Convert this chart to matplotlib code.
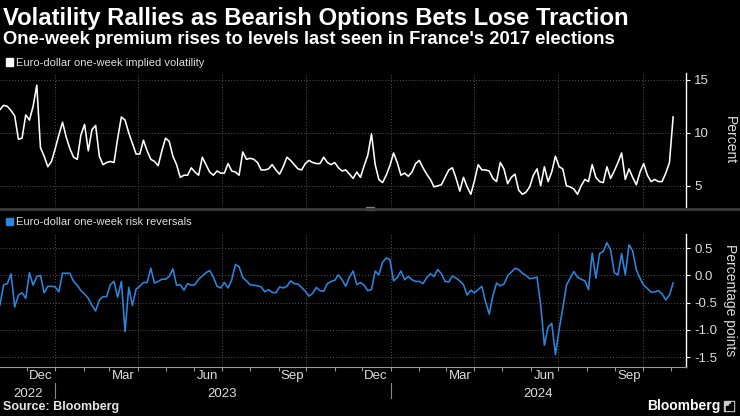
import matplotlib.pyplot as plt
import matplotlib.dates as mdates
import matplotlib.transforms as mtransforms
from matplotlib.patches import Rectangle
from matplotlib.lines import Line2D
from matplotlib.ticker import FormatStrFormatter, NullFormatter
import pandas as pd

plt.rcParams['font.family'] = ['Liberation Sans', 'DejaVu Sans']
plt.rcParams['axes.unicode_minus'] = False

# one reading every 4 days, Nov 2022 -> Nov 2024
dates = pd.date_range('2022-11-02', periods=184, freq='4D')

implied_vol = [
    12.2, 12.6, 12.5, 12.1, 11.6, 9.4, 9.5, 11.7, 11.2, 12.5,
    14.5, 8.6, 7.8, 6.8, 7.3, 8.5, 9.8, 11.0, 9.6, 8.5,
    7.7, 7.5, 9.8, 10.8, 8.3, 10.3, 10.7, 7.8, 7.0, 7.2,
    7.3, 7.2, 9.5, 11.5, 11.2, 10.0, 9.0, 8.0, 8.0, 9.3,
    8.3, 7.5, 7.3, 6.9, 8.3, 9.5, 9.2, 7.8, 7.0, 5.8,
    6.0, 6.0, 6.7, 6.3, 6.0, 7.7, 7.0, 6.3, 6.0, 6.4,
    6.2, 6.2, 7.1, 6.4, 6.3, 6.0, 8.2, 7.5, 7.6, 7.5,
    7.2, 6.5, 6.5, 6.6, 7.0, 6.5, 6.1, 6.8, 7.7, 7.4,
    7.0, 6.6, 6.5, 7.1, 7.4, 7.2, 7.1, 7.1, 7.7, 7.2,
    7.0, 7.2, 6.7, 6.4, 6.5, 6.1, 5.7, 6.3, 5.8, 6.9,
    7.9, 9.9, 7.0, 5.6, 5.3, 6.0, 6.9, 8.1, 7.2, 6.0,
    6.2, 5.9, 6.3, 7.1, 7.4, 6.7, 6.1, 5.6, 4.9, 5.0,
    5.1, 5.8, 6.5, 6.7, 5.7, 4.5, 5.8, 4.9, 4.2, 5.5,
    7.0, 6.5, 6.5, 6.4, 5.7, 5.4, 7.2, 6.6, 5.2, 5.8,
    6.1, 4.6, 4.2, 4.4, 4.9, 6.0, 6.6, 5.0, 6.8, 5.4,
    6.3, 7.8, 6.8, 6.6, 5.0, 4.9, 4.7, 4.2, 5.0, 5.6,
    5.4, 7.0, 5.8, 5.4, 5.3, 6.8, 5.7, 6.4, 7.2, 8.1,
    5.6, 6.6, 5.8, 5.1, 6.3, 7.1, 6.0, 5.4, 5.6, 5.4,
    5.4, 6.2, 7.2, 11.5,
]

risk_reversal = [
    -0.54, -0.17, -0.15, 0.03, -0.58, -0.36, -0.32, -0.42, 0.05, -0.18,
    -0.02, 0.00, -0.32, -0.20, -0.20, -0.21, -0.30, 0.04, 0.04, 0.04,
    -0.11, -0.18, -0.28, -0.34, -0.42, -0.55, -0.65, -0.45, -0.39, -0.39,
    -0.17, -0.11, -0.40, -0.11, -1.03, -0.22, -0.55, -0.25, -0.20, -0.13,
    -0.13, 0.13, -0.14, -0.11, -0.07, -0.07, -0.02, 0.12, -0.18, -0.17,
    -0.27, -0.15, -0.18, -0.17, -0.07, -0.01, 0.05, 0.09, -0.03, -0.20,
    -0.23, -0.13, -0.23, -0.08, 0.20, 0.16, -0.04, -0.10, -0.17, -0.18,
    -0.19, -0.21, -0.30, -0.26, -0.31, -0.32, -0.21, -0.23, -0.20, -0.10,
    -0.15, -0.16, -0.22, -0.29, -0.38, -0.33, -0.22, -0.28, -0.29, -0.15,
    -0.11, -0.09, 0.01, -0.08, -0.20, -0.03, 0.08, -0.17, -0.13, -0.18,
    -0.28, -0.26, 0.08, 0.01, 0.24, 0.32, 0.29, -0.10, -0.04, 0.08,
    -0.08, -0.02, -0.08, -0.11, -0.11, -0.15, -0.04, 0.03, -0.02, 0.11,
    0.03, -0.11, -0.12, -0.01, -0.05, -0.10, -0.17, -0.36, -0.27, -0.32,
    -0.26, -0.20, -0.48, -0.71, -0.37, -0.14, -0.19, -0.16, -0.01, 0.06,
    0.13, 0.11, 0.04, 0.00, -0.06, -0.05, -0.03, -0.55, -1.28, -0.95,
    -0.88, -1.45, -1.00, -0.60, -0.18, -0.05, 0.07, -0.03, -0.07, -0.10,
    -0.26, 0.41, -0.05, 0.40, 0.44, 0.60, 0.47, 0.05, 0.01, 0.40,
    0.01, 0.56, 0.45, 0.10, -0.05, -0.18, -0.24, -0.31, -0.30, -0.28,
    -0.34, -0.45, -0.36, -0.14,
]

vol_ticks = [5, 10, 15]
rr_ticks = [-1.5, -1.0, -0.5, 0.0, 0.5]
month_labels = ['Dec', 'Mar', 'Jun', 'Sep', 'Dec', 'Mar', 'Jun', 'Sep']
month_label_dates = pd.to_datetime(['2022-12-16', '2023-03-16', '2023-06-16', '2023-09-16',
                                    '2023-12-16', '2024-03-16', '2024-06-16', '2024-09-16'])
quarter_starts = pd.to_datetime(['2023-01-01', '2023-04-01', '2023-07-01', '2023-10-01',
                                 '2024-01-01', '2024-04-01', '2024-07-01', '2024-10-01'])
year_labels = ['2022', '2023', '2024']
year_centers = pd.to_datetime(['2022-12-02', '2023-07-02', '2024-06-09'])
year_breaks = pd.to_datetime(['2023-01-01', '2024-01-01'])

W, H = 740, 416
x_start, x_end = pd.Timestamp('2022-11-02'), pd.Timestamp('2024-11-17')

fig = plt.figure(figsize=(W / 100, H / 100), dpi=100, facecolor='black')
ax1 = fig.add_axes([0, 1 - 207 / H, 686 / W, 134 / H])
ax2 = fig.add_axes([0, 1 - 367 / H, 686 / W, 133 / H])

grid_kw = dict(color='#555555', lw=0.7, linestyle=(0, (1, 2)))

for ax in (ax1, ax2):
    ax.set_facecolor('black')
    for s in ('left', 'top', 'bottom'):
        ax.spines[s].set_visible(False)
    ax.spines['right'].set_color('white')
    ax.spines['right'].set_linewidth(1)
    ax.yaxis.tick_right()
    ax.tick_params(axis='y', direction='out', length=3, width=0.8, color='white',
                   labelcolor='#dddddd', labelsize=9.5, pad=3)
    ax.grid(axis='y', **grid_kw)
    for q in quarter_starts:
        ax.axvline(q, zorder=0, **grid_kw)
    ax.set_xlim(x_start, x_end)

ax1.plot(dates, implied_vol, color='white', lw=1.15)
ax1.set_ylim(3.0, 15.65)
ax1.set_yticks(vol_ticks)
ax1.tick_params(axis='x', length=0, labelbottom=False)

ax2.plot(dates, risk_reversal, color='#2b86e0', lw=1.15)
ax2.set_ylim(-1.68, 0.76)
ax2.set_yticks(rr_ticks)
ax2.yaxis.set_major_formatter(FormatStrFormatter('%.1f'))
ax2.spines['bottom'].set_visible(True)
ax2.spines['bottom'].set_color('#999999')
ax2.xaxis.set_major_locator(mdates.MonthLocator())
ax2.xaxis.set_major_formatter(NullFormatter())
ax2.tick_params(axis='x', which='major', direction='out', length=3, color='#999999')
ax2.set_xticks(month_label_dates, labels=month_labels, minor=True)
ax2.tick_params(axis='x', which='minor', length=0, pad=2.5, labelsize=9.5, labelcolor='#dddddd')

trans = mtransforms.blended_transform_factory(ax2.transData, ax2.transAxes)
for d, lab in zip(year_centers, year_labels):
    ax2.text(d, -0.2256, lab, transform=trans, ha='center', va='baseline',
             fontsize=9.5, color='#dddddd', clip_on=False)
for d in year_breaks:
    ax2.plot([d, d], [-0.12, -0.233], transform=trans, color='#888888', lw=0.8, clip_on=False)

# titles
fig.text(3 / W, 1 - 25 / H, 'Volatility Rallies as Bearish Options Bets Lose Traction',
         fontsize=17.2, fontweight='bold', color='white', va='baseline')
fig.text(3 / W, 1 - 44 / H, "One-week premium rises to levels last seen in France's 2017 elections",
         fontsize=13.2, fontweight='bold', color='white', va='baseline')

# legends
fig.patches.append(Rectangle((6 / W, 1 - 65.5 / H), 7 / W, 7.5 / H, color='white',
                             transform=fig.transFigure, figure=fig))
fig.text(16 / W, 1 - 65.5 / H, 'Euro-dollar one-week implied volatility',
         fontsize=8, color='#e0e0e0', va='baseline')
fig.patches.append(Rectangle((6 / W, 1 - 225 / H), 7 / W, 7.5 / H, color='#2b86e0',
                             transform=fig.transFigure, figure=fig))
fig.text(16 / W, 1 - 225 / H, 'Euro-dollar one-week risk reversals',
         fontsize=8, color='#e0e0e0', va='baseline')

# axis titles
fig.text(730 / W, 1 - 140 / H, 'Percent', rotation=270, ha='center', va='center',
         fontsize=10, color='#dddddd')
fig.text(730 / W, 1 - 300 / H, 'Percentage points', rotation=270, ha='center', va='center',
         fontsize=10, color='#dddddd')

# panel separator
fig.add_artist(Line2D([0, 1], [1 - 208.5 / H] * 2, transform=fig.transFigure,
                      color='#3c3c3c', lw=2.0))
fig.patches.append(Rectangle((366 / W, 1 - 210 / H), 8 / W, 3 / H, color='#777777',
                             transform=fig.transFigure, figure=fig))

# footer
fig.text(3 / W, 1 - 410 / H, 'Source: Bloomberg', fontsize=9, fontweight='bold',
         color='#e6e6e6', va='baseline')
fig.text(720 / W, 1 - 410 / H, 'Bloomberg', fontsize=10, fontweight='bold',
         color='white', va='baseline', ha='right')
fig.patches.append(Rectangle((724 / W, 1 - 411 / H), 10 / W, 10 / H, color='#cccccc',
                             transform=fig.transFigure, figure=fig))
for bx, bh in [(726, 4), (728.5, 6), (731, 8)]:
    fig.patches.append(Rectangle((bx / W, 1 - 410 / H), 1.5 / W, bh / H, color='black',
                                 transform=fig.transFigure, figure=fig))

fig.savefig('out.png', dpi=100, facecolor='black')
